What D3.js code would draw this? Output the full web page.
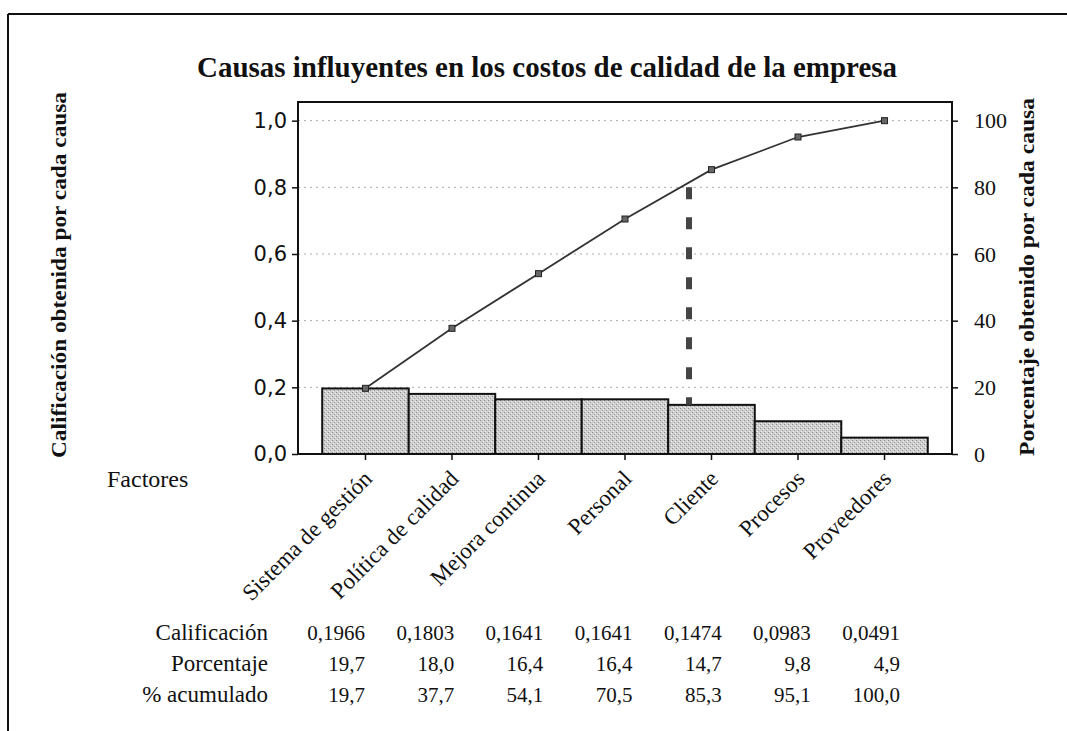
<!DOCTYPE html>
<html>
<head>
<meta charset="utf-8">
<script src="https://cdn.jsdelivr.net/npm/d3@7"></script>
<style>
  html, body { margin: 0; padding: 0; background: #fff; }
  svg { display: block; }
</style>
</head>
<body>
<svg id="chart" width="1067" height="731"></svg>
<script>
const categories = ["Sistema de gestión", "Política de calidad", "Mejora continua", "Personal", "Cliente", "Procesos", "Proveedores"];
const values = [0.1966, 0.1803, 0.1641, 0.1641, 0.1474, 0.0983, 0.0491];
const percents = [19.7, 18.0, 16.4, 16.4, 14.7, 9.8, 4.9];
const cumulative = [19.7, 37.7, 54.1, 70.5, 85.3, 95.1, 100.0];
const leftTicks = [0, 0.2, 0.4, 0.6, 0.8, 1.0];
const rightTicks = [0, 20, 40, 60, 80, 100];
const rowLabels = ["Calificación", "Porcentaje", "% acumulado"];
const cutoffPosition = 3.74;   // position (in category units) of the 80% cutoff marker
const cutoffPercent = 80;
const titleText = "Causas influyentes en los costos de calidad de la empresa";
const leftTitle = "Calificación obtenida por cada causa";
const rightTitle = "Porcentaje obtenido por cada causa";

const svg = d3.select("#chart");
const L = 298, R = 952, T = 102, B = 454;
const serif = "Liberation Serif, Times New Roman, serif";

const x = d3.scaleBand().domain(categories).range([L, R]).paddingInner(0).paddingOuter(0.28);
const y = d3.scaleLinear().domain([0, 1.056]).range([B, T]);
const yR = d3.scaleLinear().domain([0, 105.6]).range([B, T]);
const col = d3.scalePoint().domain(categories).range([365, 900]);
const comma = f => v => d3.format(f)(v).replace(".", ",");

// stipple pattern for bars
const defs = svg.append("defs");
const pat = defs.append("pattern").attr("id", "stip").attr("patternUnits", "userSpaceOnUse")
  .attr("width", 4).attr("height", 4);
pat.append("rect").attr("width", 4).attr("height", 4).attr("fill", "#cfcfcf");
pat.append("rect").attr("x", 0).attr("y", 0).attr("width", 1).attr("height", 1).attr("fill", "#8a8a8a");
pat.append("rect").attr("x", 2).attr("y", 2).attr("width", 1).attr("height", 1).attr("fill", "#9a9a9a");
pat.append("rect").attr("x", 3).attr("y", 1).attr("width", 1).attr("height", 1).attr("fill", "#eeeeee");
pat.append("rect").attr("x", 1).attr("y", 3).attr("width", 1).attr("height", 1).attr("fill", "#eeeeee");

// outer frame (top and left edges visible)
svg.append("line").attr("x1", 8).attr("x2", 1067).attr("y1", 14).attr("y2", 14)
  .attr("stroke", "#111").attr("stroke-width", 2);
svg.append("line").attr("x1", 8).attr("x2", 8).attr("y1", 14).attr("y2", 731)
  .attr("stroke", "#111").attr("stroke-width", 2);

// title
svg.append("text").attr("x", 197).attr("y", 77)
  .attr("font-family", serif).attr("font-weight", "bold")
  .attr("font-size", 29).attr("textLength", 700).attr("lengthAdjust", "spacingAndGlyphs")
  .attr("fill", "#111").text(titleText);

// gridlines
svg.append("g").selectAll("line").data(leftTicks.filter(d => d > 0)).join("line")
  .attr("x1", L).attr("x2", R).attr("y1", d => y(d)).attr("y2", d => y(d))
  .attr("stroke", "#aaa").attr("stroke-width", 1).attr("stroke-dasharray", "2,4");

// bars
svg.append("g").selectAll("rect").data(values).join("rect")
  .attr("x", (d, i) => x(categories[i]))
  .attr("y", d => y(d))
  .attr("width", x.bandwidth())
  .attr("height", d => B - y(d))
  .attr("fill", "url(#stip)").attr("stroke", "#111").attr("stroke-width", 2);

// cutoff dashed line
const xPos = p => x(categories[0]) + x.bandwidth() * (p + 0.5);
svg.append("line")
  .attr("x1", xPos(cutoffPosition)).attr("x2", xPos(cutoffPosition))
  .attr("y1", yR(cutoffPercent)).attr("y2", y(values[4]))
  .attr("stroke", "#444").attr("stroke-width", 6).attr("stroke-dasharray", "12,18");

// cumulative line
const line = d3.line().x((d, i) => x(categories[i]) + x.bandwidth() / 2).y(d => yR(d));
svg.append("path").datum(cumulative).attr("d", line)
  .attr("fill", "none").attr("stroke", "#333").attr("stroke-width", 1.8);
svg.append("g").selectAll("rect").data(cumulative).join("rect")
  .attr("x", (d, i) => x(categories[i]) + x.bandwidth() / 2 - 3)
  .attr("y", d => yR(d) - 3).attr("width", 6).attr("height", 6)
  .attr("fill", "#666").attr("stroke", "#222").attr("stroke-width", 1);

// plot frame
svg.append("rect").attr("x", L).attr("y", T).attr("width", R - L).attr("height", B - T)
  .attr("fill", "none").attr("stroke", "#111").attr("stroke-width", 2);

// left axis
const gl = svg.append("g").attr("transform", `translate(${L},0)`)
  .call(d3.axisLeft(y).tickValues(leftTicks).tickFormat(comma(".1f")).tickSize(6).tickPadding(5));
gl.select(".domain").remove();
gl.selectAll("line").attr("stroke", "#111").attr("stroke-width", 1.5);
gl.selectAll("text").attr("font-family", "DejaVu Sans, Verdana, sans-serif").attr("font-size", 21).attr("fill", "#111");

// right axis
const gr = svg.append("g").attr("transform", `translate(${R},0)`)
  .call(d3.axisRight(yR).tickValues(rightTicks).tickFormat(d3.format("d")).tickSize(6).tickPadding(16));
gr.select(".domain").remove();
gr.selectAll("line").attr("stroke", "#111").attr("stroke-width", 1.5);
gr.selectAll("text").attr("font-family", serif).attr("font-size", 22).attr("fill", "#111");

// bottom axis
const gb = svg.append("g").attr("transform", `translate(0,${B})`)
  .call(d3.axisBottom(x).tickSize(6).tickFormat(""));
gb.select(".domain").remove();
gb.selectAll("line").attr("stroke", "#111").attr("stroke-width", 1.5);

// category labels
svg.append("g").selectAll("text").data(categories).join("text")
  .attr("transform", d => `translate(${x(d) + x.bandwidth() / 2 + 8},480) rotate(-45)`)
  .attr("text-anchor", "end")
  .attr("font-family", serif).attr("font-size", 23).attr("fill", "#111")
  .text(d => d);

svg.append("text").attr("x", 107).attr("y", 487)
  .attr("font-family", serif).attr("font-size", 24).attr("fill", "#111")
  .text("Factores");

// axis titles
svg.append("text").attr("transform", "translate(66,275) rotate(-90)")
  .attr("text-anchor", "middle").attr("font-family", serif)
  .attr("font-weight", "bold").attr("font-size", 22)
  .attr("textLength", 366).attr("lengthAdjust", "spacingAndGlyphs")
  .attr("fill", "#111").text(leftTitle);
svg.append("text").attr("transform", "translate(1034,277) rotate(-90)")
  .attr("text-anchor", "middle").attr("font-family", serif)
  .attr("font-weight", "bold").attr("font-size", 22)
  .attr("textLength", 358).attr("lengthAdjust", "spacingAndGlyphs")
  .attr("fill", "#111").text(rightTitle);

// data table
const rows = [values.map(comma(".4f")), percents.map(comma(".1f")), cumulative.map(comma(".1f"))];
const rowY = [640, 671, 702];
rows.forEach((row, r) => {
  svg.append("text").attr("x", 268).attr("y", rowY[r]).attr("text-anchor", "end")
    .attr("font-family", serif).attr("font-size", 23).attr("fill", "#111")
    .text(rowLabels[r]);
  svg.append("g").selectAll("text").data(row).join("text")
    .attr("x", (d, i) => col(categories[i]))
    .attr("y", rowY[r]).attr("text-anchor", "end")
    .attr("font-family", serif).attr("font-size", 21).attr("fill", "#111")
    .text(d => d);
});
</script>
</body>
</html>
